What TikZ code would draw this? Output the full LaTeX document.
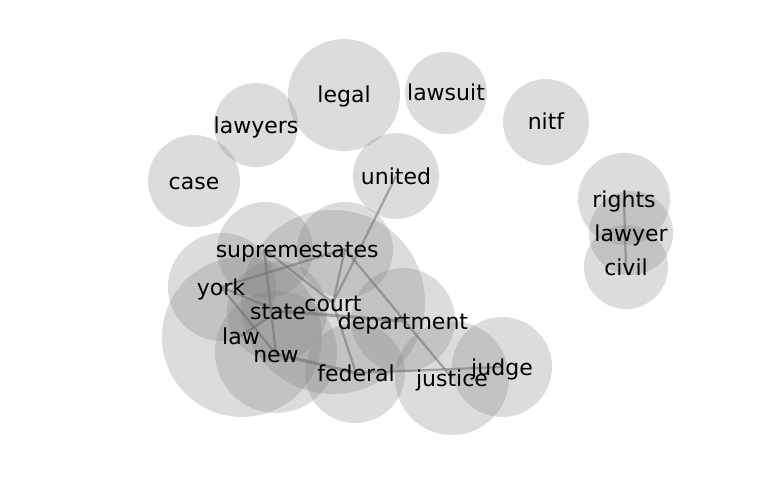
\documentclass[tikz,border=0pt]{standalone}
\usepackage{fontspec}
\setmainfont{DejaVu Sans}
\begin{document}
\begin{tikzpicture}[x=1pt,y=-1pt,
  bubble/.style={circle,inner sep=0pt,minimum size=#1,fill={rgb,255:red,128;green,128;blue,128},fill opacity=0.27,draw=none},
  link/.style={draw={rgb,255:red,110;green,110;blue,110},line width=2.2pt,opacity=0.55},
  thicklink/.style={link,line width=3.2pt},
  word/.style={font=\fontsize{22}{26}\selectfont,text=black,anchor=base,inner sep=0pt}]
\useasboundingbox[fill=white] (0,0) rectangle (768,500);
% centers
\coordinate (legal) at (344,95);
\coordinate (lawsuit) at (446,93);
\coordinate (nitf) at (546,122);
\coordinate (lawyers) at (256,125);
\coordinate (case) at (194,181);
\coordinate (united) at (396,176);
\coordinate (rights) at (624,199);
\coordinate (lawyer) at (631,233);
\coordinate (civil) at (626,267);
\coordinate (supreme) at (264,249);
\coordinate (states) at (345,249);
\coordinate (york) at (221,287);
\coordinate (state) at (278,311);
\coordinate (court) at (333,303);
\coordinate (department) at (403,321);
\coordinate (law) at (241,336);
\coordinate (new) at (276,354);
\coordinate (federal) at (356,373);
\coordinate (justice) at (452,378);
\coordinate (judge) at (502,367);
% bubbles
\node[bubble=112pt] (b-legal) at (344,95) {};
\node[bubble=82pt] (b-lawsuit) at (446,93) {};
\node[bubble=86pt] (b-nitf) at (546,122) {};
\node[bubble=84pt] (b-lawyers) at (256,125) {};
\node[bubble=92pt] (b-case) at (194,181) {};
\node[bubble=86pt] (b-united) at (396,176) {};
\node[bubble=92pt] (b-rights) at (624,199) {};
\node[bubble=84pt] (b-lawyer) at (631,233) {};
\node[bubble=84pt] (b-civil) at (626,267) {};
\node[bubble=96pt] (b-supreme) at (265,250) {};
\node[bubble=96pt] (b-states) at (345,250) {};
\node[bubble=108pt] (b-york) at (222,287) {};
\node[bubble=184pt] (b-court) at (333,302) {};
\node[bubble=100pt] (b-state) at (277,311) {};
\node[bubble=160pt] (b-law) at (242,337) {};
\node[bubble=122pt] (b-new) at (276,352) {};
\node[bubble=104pt] (b-department) at (403,320) {};
\node[bubble=100pt] (b-federal) at (355,373) {};
\node[bubble=114pt] (b-justice) at (452,378) {};
\node[bubble=100pt] (b-judge) at (502,367) {};
% links
\draw[link] (united) -- (court);
\draw[link] (states) -- (court);
\draw[link] (states) -- (justice);
\draw[link] (york) -- (states);
\draw[link] (supreme) -- (new);
\draw[link] (supreme) -- (court);
\draw[link] (york) -- (state);
\draw[link] (york) -- (new);
\draw[link] (law) -- (state);
\draw[thicklink] (state) -- (department);
\draw[link] (court) -- (federal);
\draw[thicklink] (new) -- (federal);
\draw[link] (federal) -- (judge);
\draw[link] (rights) -- (civil);
% words
\node[word] (w-legal) at (344,103) {legal};
\node[word] (w-lawsuit) at (446,101) {lawsuit};
\node[word] (w-nitf) at (546,130) {nitf};
\node[word] (w-lawyers) at (256,133) {lawyers};
\node[word] (w-case) at (194,189) {case};
\node[word] (w-united) at (396,184) {united};
\node[word] (w-rights) at (624,207) {rights};
\node[word] (w-lawyer) at (631,241) {lawyer};
\node[word] (w-civil) at (626,275) {civil};
\node[word] (w-supreme) at (264,257) {supreme};
\node[word] (w-states) at (345,257) {states};
\node[word] (w-york) at (221,295) {york};
\node[word] (w-state) at (278,319) {state};
\node[word] (w-court) at (333,311) {court};
\node[word] (w-department) at (403,329) {department};
\node[word] (w-law) at (241,344) {law};
\node[word] (w-new) at (276,362) {new};
\node[word] (w-federal) at (356,381) {federal};
\node[word] (w-justice) at (452,386) {justice};
\node[word] (w-judge) at (502,375) {judge};
\end{tikzpicture}
\end{document}
